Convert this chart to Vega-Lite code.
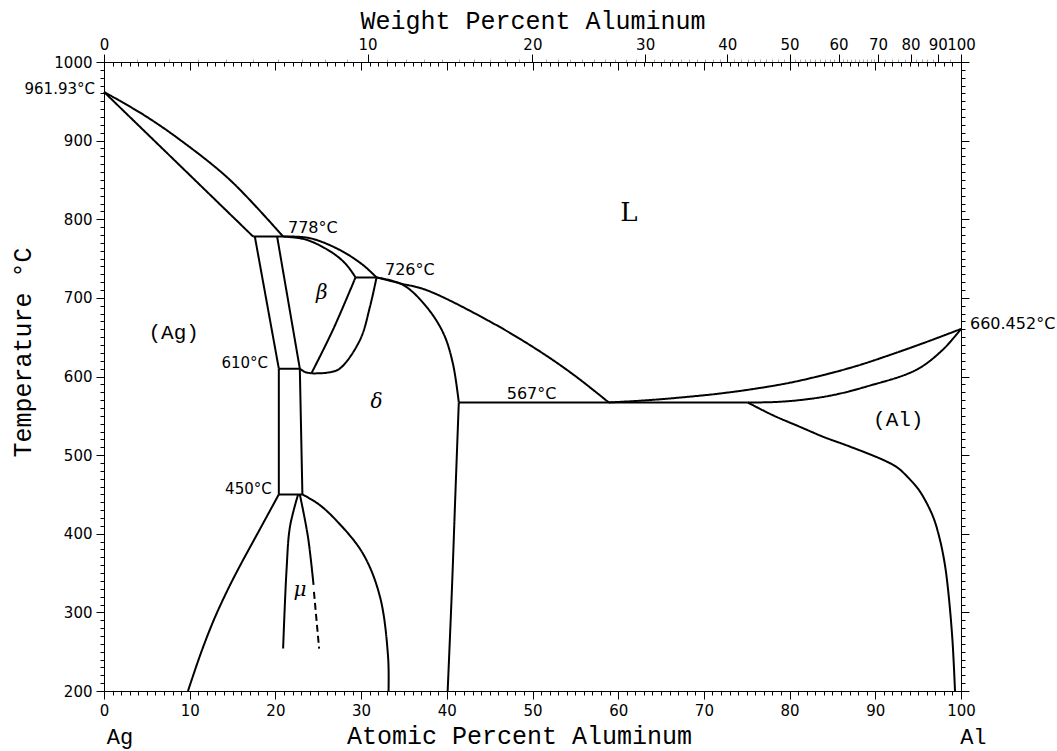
{
  "$schema": "https://vega.github.io/schema/vega-lite/v6.json",
  "width": 857,
  "height": 629,
  "autosize": {"type": "none"},
  "padding": {"left": 104, "top": 62, "right": 96, "bottom": 60},
  "background": "white",
  "config": {
    "view": {"stroke": null},
    "axis": {
      "domainColor": "black", "tickColor": "black", "labelColor": "black", "titleColor": "black",
      "labelFont": "DejaVu Sans", "labelFontSize": 15, "titleFont": "Liberation Mono", "titleFontSize": 25,
      "titleFontWeight": "normal", "grid": false, "labelFlush": false, "labelOverlap": false, "tickWidth": 1, "domainWidth": 1
    }
  },
  "datasets": {
    "lines": [
      {"s":"s01","o":0,"at":0,"T":961.93,"st":"solid"},{"s":"s01","o":1,"at":4.59,"T":933,"st":"solid"},{"s":"s01","o":2,"at":8.87,"T":901,"st":"solid"},{"s":"s01","o":3,"at":14.7,"T":850,"st":"solid"},{"s":"s01","o":4,"at":20.9,"T":778,"st":"solid"},
      {"s":"s02","o":0,"at":0,"T":961.93,"st":"solid"},{"s":"s02","o":1,"at":8.7,"T":870,"st":"solid"},{"s":"s02","o":2,"at":17.4,"T":778,"st":"solid"},
      {"s":"s03","o":0,"at":17.4,"T":778,"st":"solid"},{"s":"s03","o":1,"at":20.9,"T":778,"st":"solid"},
      {"s":"s04","o":0,"at":17.6,"T":778,"st":"solid"},{"s":"s04","o":1,"at":20.4,"T":610,"st":"solid"},
      {"s":"s05","o":0,"at":20.4,"T":610,"st":"solid"},{"s":"s05","o":1,"at":20.4,"T":450,"st":"solid"},
      {"s":"s06","o":0,"at":20.2,"T":778,"st":"solid"},{"s":"s06","o":1,"at":22.85,"T":610,"st":"solid"},
      {"s":"s07","o":0,"at":20.4,"T":610,"st":"solid"},{"s":"s07","o":1,"at":22.85,"T":610,"st":"solid"},
      {"s":"s08","o":0,"at":22.85,"T":610,"st":"solid"},{"s":"s08","o":1,"at":23.15,"T":450,"st":"solid"},
      {"s":"s09","o":0,"at":20.4,"T":450,"st":"solid"},{"s":"s09","o":1,"at":23.15,"T":450,"st":"solid"},
      {"s":"s10","o":0,"at":20.4,"T":450,"st":"solid"},{"s":"s10","o":1,"at":19.0,"T":422,"st":"solid"},{"s":"s10","o":2,"at":17.5,"T":392,"st":"solid"},{"s":"s10","o":3,"at":16.0,"T":362,"st":"solid"},{"s":"s10","o":4,"at":14.4,"T":328,"st":"solid"},{"s":"s10","o":5,"at":12.8,"T":290,"st":"solid"},{"s":"s10","o":6,"at":11.3,"T":248,"st":"solid"},{"s":"s10","o":7,"at":9.8,"T":200,"st":"solid"},
      {"s":"s11","o":0,"at":22.65,"T":450,"st":"solid"},{"s":"s11","o":1,"at":21.7,"T":409,"st":"solid"},{"s":"s11","o":2,"at":21.3,"T":354,"st":"solid"},{"s":"s11","o":3,"at":20.9,"T":254,"st":"solid"},
      {"s":"s12","o":0,"at":22.85,"T":450,"st":"solid"},{"s":"s12","o":1,"at":23.8,"T":396,"st":"solid"},{"s":"s12","o":2,"at":24.45,"T":335,"st":"solid"},
      {"s":"s13","o":0,"at":24.5,"T":326,"st":"dash"},{"s":"s13","o":1,"at":25.1,"T":254,"st":"dash"},
      {"s":"s14","o":0,"at":23.15,"T":450,"st":"solid"},{"s":"s14","o":1,"at":25.0,"T":438,"st":"solid"},{"s":"s14","o":2,"at":27.1,"T":417,"st":"solid"},{"s":"s14","o":3,"at":30.2,"T":375,"st":"solid"},{"s":"s14","o":4,"at":32.2,"T":320,"st":"solid"},{"s":"s14","o":5,"at":33.15,"T":243,"st":"solid"},{"s":"s14","o":6,"at":33.2,"T":200,"st":"solid"},
      {"s":"s15","o":0,"at":24.2,"T":604,"st":"solid"},{"s":"s15","o":1,"at":26.7,"T":659,"st":"solid"},{"s":"s15","o":2,"at":29.35,"T":726,"st":"solid"},
      {"s":"s16","o":0,"at":24.2,"T":604,"st":"solid"},{"s":"s16","o":1,"at":26.0,"T":604.8,"st":"solid"},{"s":"s16","o":2,"at":27.5,"T":610,"st":"solid"},{"s":"s16","o":3,"at":29.87,"T":646.5,"st":"solid"},{"s":"s16","o":4,"at":31.04,"T":689,"st":"solid"},{"s":"s16","o":5,"at":31.8,"T":726,"st":"solid"},
      {"s":"s17","o":0,"at":22.85,"T":610,"st":"solid"},{"s":"s17","o":1,"at":23.4,"T":606,"st":"solid"},{"s":"s17","o":2,"at":24.2,"T":604,"st":"solid"},
      {"s":"s18","o":0,"at":20.9,"T":778,"st":"solid"},{"s":"s18","o":1,"at":24.0,"T":776,"st":"solid"},{"s":"s18","o":2,"at":27.5,"T":761,"st":"solid"},{"s":"s18","o":3,"at":30.2,"T":742,"st":"solid"},{"s":"s18","o":4,"at":31.8,"T":726,"st":"solid"},
      {"s":"s19","o":0,"at":20.9,"T":778,"st":"solid"},{"s":"s19","o":1,"at":23.6,"T":774,"st":"solid"},{"s":"s19","o":2,"at":26.7,"T":757,"st":"solid"},{"s":"s19","o":3,"at":28.3,"T":742,"st":"solid"},{"s":"s19","o":4,"at":29.35,"T":726,"st":"solid"},
      {"s":"s20","o":0,"at":29.35,"T":726,"st":"solid"},{"s":"s20","o":1,"at":31.8,"T":726,"st":"solid"},
      {"s":"s21","o":0,"at":31.8,"T":726,"st":"solid"},{"s":"s21","o":1,"at":34.5,"T":718.6,"st":"solid"},{"s":"s21","o":2,"at":37.6,"T":710,"st":"solid"},{"s":"s21","o":3,"at":45.4,"T":667.7,"st":"solid"},{"s":"s21","o":4,"at":51.2,"T":629.5,"st":"solid"},{"s":"s21","o":5,"at":55.1,"T":599.7,"st":"solid"},{"s":"s21","o":6,"at":58.9,"T":567,"st":"solid"},
      {"s":"s22","o":0,"at":31.8,"T":726,"st":"solid"},{"s":"s22","o":1,"at":34.9,"T":716.5,"st":"solid"},{"s":"s22","o":2,"at":37.6,"T":689,"st":"solid"},{"s":"s22","o":3,"at":39.6,"T":655,"st":"solid"},{"s":"s22","o":4,"at":40.7,"T":617,"st":"solid"},{"s":"s22","o":5,"at":41.4,"T":567,"st":"solid"},
      {"s":"s23","o":0,"at":41.4,"T":567,"st":"solid"},{"s":"s23","o":1,"at":41.0,"T":450,"st":"solid"},{"s":"s23","o":2,"at":40.6,"T":330,"st":"solid"},{"s":"s23","o":3,"at":40.1,"T":200,"st":"solid"},
      {"s":"s24","o":0,"at":41.4,"T":567,"st":"solid"},{"s":"s24","o":1,"at":75.1,"T":567,"st":"solid"},
      {"s":"s25","o":0,"at":58.9,"T":567,"st":"solid"},{"s":"s25","o":1,"at":63.0,"T":569.5,"st":"solid"},{"s":"s25","o":2,"at":67.5,"T":573.5,"st":"solid"},{"s":"s25","o":3,"at":72.0,"T":578.5,"st":"solid"},{"s":"s25","o":4,"at":76.0,"T":584.5,"st":"solid"},{"s":"s25","o":5,"at":80.0,"T":592,"st":"solid"},{"s":"s25","o":6,"at":84.0,"T":602,"st":"solid"},{"s":"s25","o":7,"at":88.0,"T":614,"st":"solid"},{"s":"s25","o":8,"at":92.0,"T":628.5,"st":"solid"},{"s":"s25","o":9,"at":96.0,"T":644,"st":"solid"},{"s":"s25","o":10,"at":100,"T":660.452,"st":"solid"},
      {"s":"s26","o":0,"at":75.1,"T":567,"st":"solid"},{"s":"s26","o":1,"at":78.0,"T":567.4,"st":"solid"},{"s":"s26","o":2,"at":81.2,"T":570,"st":"solid"},{"s":"s26","o":3,"at":84.9,"T":576,"st":"solid"},{"s":"s26","o":4,"at":88.9,"T":587,"st":"solid"},{"s":"s26","o":5,"at":94.75,"T":608.3,"st":"solid"},{"s":"s26","o":6,"at":97.85,"T":633.8,"st":"solid"},{"s":"s26","o":7,"at":100,"T":660.452,"st":"solid"},
      {"s":"s27","o":0,"at":75.1,"T":567,"st":"solid"},{"s":"s27","o":1,"at":78.0,"T":551,"st":"solid"},{"s":"s27","o":2,"at":81.2,"T":536,"st":"solid"},{"s":"s27","o":3,"at":84.0,"T":523,"st":"solid"},{"s":"s27","o":4,"at":87.0,"T":511,"st":"solid"},{"s":"s27","o":5,"at":90.9,"T":494,"st":"solid"},{"s":"s27","o":6,"at":92.6,"T":484,"st":"solid"},{"s":"s27","o":7,"at":94.05,"T":469,"st":"solid"},{"s":"s27","o":8,"at":95.0,"T":457,"st":"solid"},{"s":"s27","o":9,"at":95.8,"T":443,"st":"solid"},{"s":"s27","o":10,"at":96.8,"T":420,"st":"solid"},{"s":"s27","o":11,"at":97.55,"T":392,"st":"solid"},{"s":"s27","o":12,"at":98.1,"T":362,"st":"solid"},{"s":"s27","o":13,"at":98.5,"T":328,"st":"solid"},{"s":"s27","o":14,"at":99.0,"T":265,"st":"solid"},{"s":"s27","o":15,"at":99.3,"T":200,"st":"solid"}
    ],
    "tempsL": [
      {"t":"778°C","at":21.47,"T":788.7},
      {"t":"726°C","at":32.79,"T":735.5},
      {"t":"567°C","at":46.99,"T":577.7},
      {"t":"660.452°C","at":101.05,"T":666.8}
    ],
    "tempsR": [
      {"t":"961.93°C","at":-1.05,"T":966},
      {"t":"610°C","at":19.14,"T":617},
      {"t":"450°C","at":19.57,"T":456.4}
    ],
    "phases": [
      {"t":"(Ag)","at":8.13,"T":655},
      {"t":"(Al)","at":92.68,"T":544.6}
    ],
    "ends": [
      {"t":"Ag","at":1.87,"T":133},
      {"t":"Al","at":101.44,"T":133}
    ],
    "greek": [
      {"t":"β","at":25.4,"T":705.9},
      {"t":"δ","at":31.8,"T":567.9},
      {"t":"μ","at":22.87,"T":328.2}
    ],
    "liquid": [
      {"t":"L","at":61.26,"T":808.1}
    ]
  },
  "layer": [
    {
      "data": {"name": "lines"},
      "mark": {"type": "line", "color": "black", "strokeWidth": 2, "interpolate": "catmull-rom", "strokeJoin": "round"},
      "encoding": {
        "x": {"field": "at", "type": "quantitative", "scale": {"domain": [0, 100], "nice": false, "zero": false},
          "axis": {"orient": "bottom",
            "values": [0,1,2,3,4,5,6,7,8,9,10,11,12,13,14,15,16,17,18,19,20,21,22,23,24,25,26,27,28,29,30,31,32,33,34,35,36,37,38,39,40,41,42,43,44,45,46,47,48,49,50,51,52,53,54,55,56,57,58,59,60,61,62,63,64,65,66,67,68,69,70,71,72,73,74,75,76,77,78,79,80,81,82,83,84,85,86,87,88,89,90,91,92,93,94,95,96,97,98,99,100],
            "tickSize": {"condition": {"test": "datum.value % 10 === 0", "value": 8}, "value": 4},
            "labelExpr": "datum.value % 10 === 0 ? datum.label : ''",
            "format": "d",
            "labelPadding": 4,
            "title": "Atomic Percent Aluminum", "titleX": 415, "titleY": 44, "titleBaseline": "middle", "titleAlign": "center"}},
        "y": {"field": "T", "type": "quantitative", "scale": {"domain": [200, 1000], "nice": false, "zero": false},
          "axis": {"orient": "left",
            "values": [200,210,220,230,240,250,260,270,280,290,300,310,320,330,340,350,360,370,380,390,400,410,420,430,440,450,460,470,480,490,500,510,520,530,540,550,560,570,580,590,600,610,620,630,640,650,660,670,680,690,700,710,720,730,740,750,760,770,780,790,800,810,820,830,840,850,860,870,880,890,900,910,920,930,940,950,960,970,980,990,1000],
            "tickSize": {"condition": {"test": "datum.value % 100 === 0", "value": 8}, "value": 4},
            "labelExpr": "datum.value % 100 === 0 ? datum.label : ''",
            "format": "d",
            "labelPadding": 4,
            "title": "Temperature °C", "titleX": -82, "titleY": 290, "titleBaseline": "middle", "titleAlign": "center", "titleAngle": 270}},
        "detail": {"field": "s", "type": "nominal"},
        "order": {"field": "o", "type": "quantitative"},
        "strokeDash": {"field": "st", "type": "nominal", "scale": {"domain": ["solid", "dash"], "range": [[1, 0], [7, 4]]}, "legend": null}
      }
    },
    {
      "data": {"name": "tempsL"},
      "mark": {"type": "text", "font": "DejaVu Sans", "fontSize": 16, "align": "left", "baseline": "middle", "color": "black"},
      "encoding": {
        "x": {"field": "at", "type": "quantitative", "scale": {"domain": [0, 100], "nice": false, "zero": false},
          "axis": {"orient": "top",
            "values": [0,1,2,3,4,5,6,7,8,9,10,11,12,13,14,15,16,17,18,19,20,21,22,23,24,25,26,27,28,29,30,31,32,33,34,35,36,37,38,39,40,41,42,43,44,45,46,47,48,49,50,51,52,53,54,55,56,57,58,59,60,61,62,63,64,65,66,67,68,69,70,71,72,73,74,75,76,77,78,79,80,81,82,83,84,85,86,87,88,89,90,91,92,93,94,95,96,97,98,99,100],
            "tickSize": {"condition": {"test": "datum.value % 10 === 0", "value": -8}, "value": -4},
            "labels": false, "title": null}},
        "y": {"field": "T", "type": "quantitative", "scale": {"domain": [200, 1000], "nice": false, "zero": false},
          "axis": {"orient": "right",
            "values": [200,210,220,230,240,250,260,270,280,290,300,310,320,330,340,350,360,370,380,390,400,410,420,430,440,450,460,470,480,490,500,510,520,530,540,550,560,570,580,590,600,610,620,630,640,650,660,670,680,690,700,710,720,730,740,750,760,770,780,790,800,810,820,830,840,850,860,870,880,890,900,910,920,930,940,950,960,970,980,990,1000],
            "tickSize": {"condition": {"test": "datum.value % 100 === 0", "value": 8}, "value": 4},
            "labels": false, "title": null}},
        "text": {"field": "t", "type": "nominal"}
      }
    },
    {
      "data": {"name": "tempsR"},
      "mark": {"type": "text", "font": "DejaVu Sans", "fontSize": 15, "align": "right", "baseline": "middle", "color": "black"},
      "encoding": {
        "x": {"field": "at", "type": "quantitative", "scale": {"domain": [0, 100], "nice": false, "zero": false}, "axis": null},
        "y": {"field": "T", "type": "quantitative", "scale": {"domain": [200, 1000], "nice": false, "zero": false}, "axis": null},
        "text": {"field": "t", "type": "nominal"}
      }
    },
    {
      "data": {"name": "phases"},
      "mark": {"type": "text", "font": "Liberation Mono", "fontSize": 21, "align": "center", "baseline": "middle", "color": "black"},
      "encoding": {
        "x": {"field": "at", "type": "quantitative", "scale": {"domain": [0, 100], "nice": false, "zero": false},
          "axis": {"orient": "top",
            "values": [0,30.758,49.987,63.145,72.716,79.991,85.708,90.318,94.115,97.296,100,3.8815,7.5434,11.0039,14.2793,17.3837,20.3302,23.131,25.7964,28.3355,33.0709,35.282,37.3975,39.4239,41.3663,43.23,45.0195,46.74,48.3944,51.5204,52.9988,54.4245,55.8005,57.1293,58.4137,59.6557,60.8569,62.0195,64.2357,65.2937,66.3198,67.315,68.2809,69.2192,70.1312,71.017,71.8784,73.5326,74.3261,75.099,75.8522,76.5855,77.3016,77.9993,78.6796,79.3436,80.6238,81.2416,81.8449,82.435,83.0113,83.5748,84.1256,84.6662,85.1918,86.2128,86.7073,87.1914,87.6653,88.13,88.585,89.031,89.4683,89.8975,91.1347,91.9212,92.6793,93.4098,94.7949,95.4522,96.0868,96.7004,98.6999],
            "tickSize": {"condition": {"test": "indexof([0,30.758,49.987,63.145,72.716,79.991,85.708,90.318,94.115,97.296,100], datum.value) >= 0", "value": 8}, "value": 3},
            "tickColor": {"condition": {"test": "indexof([0,30.758,49.987,63.145,72.716,79.991,85.708,90.318,94.115,97.296,100], datum.value) >= 0", "value": "black"}, "value": "#aaaaaa"},
            "labelExpr": "indexof([0,30.758,49.987,63.145,72.716,79.991,85.708,90.318,94.115,97.296,100], datum.value) >= 0 ? format(100*datum.value*26.9815/(datum.value*26.9815+(100-datum.value)*107.8682), '.0f') : ''",
            "labelPadding": 2,
            "title": "Weight Percent Aluminum", "titleX": 428.5, "titleY": -42, "titleBaseline": "middle", "titleAlign": "center"}},
        "y": {"field": "T", "type": "quantitative", "scale": {"domain": [200, 1000], "nice": false, "zero": false}, "axis": null},
        "text": {"field": "t", "type": "nominal"}
      }
    },
    {
      "data": {"name": "ends"},
      "mark": {"type": "text", "font": "Liberation Mono", "fontSize": 22, "align": "center", "baseline": "alphabetic", "color": "black"},
      "encoding": {
        "x": {"field": "at", "type": "quantitative", "scale": {"domain": [0, 100], "nice": false, "zero": false}, "axis": null},
        "y": {"field": "T", "type": "quantitative", "scale": {"domain": [200, 1000], "nice": false, "zero": false}, "axis": null},
        "text": {"field": "t", "type": "nominal"}
      }
    },
    {
      "data": {"name": "greek"},
      "mark": {"type": "text", "font": "DejaVu Serif", "fontSize": 20, "fontStyle": "italic", "align": "center", "baseline": "middle", "color": "black"},
      "encoding": {
        "x": {"field": "at", "type": "quantitative", "scale": {"domain": [0, 100], "nice": false, "zero": false}, "axis": null},
        "y": {"field": "T", "type": "quantitative", "scale": {"domain": [200, 1000], "nice": false, "zero": false}, "axis": null},
        "text": {"field": "t", "type": "nominal"}
      }
    },
    {
      "data": {"name": "liquid"},
      "mark": {"type": "text", "font": "DejaVu Serif", "fontSize": 26, "align": "center", "baseline": "middle", "color": "black"},
      "encoding": {
        "x": {"field": "at", "type": "quantitative", "scale": {"domain": [0, 100], "nice": false, "zero": false}, "axis": null},
        "y": {"field": "T", "type": "quantitative", "scale": {"domain": [200, 1000], "nice": false, "zero": false}, "axis": null},
        "text": {"field": "t", "type": "nominal"}
      }
    }
  ],
  "resolve": {"axis": {"x": "independent", "y": "independent"}}
}
